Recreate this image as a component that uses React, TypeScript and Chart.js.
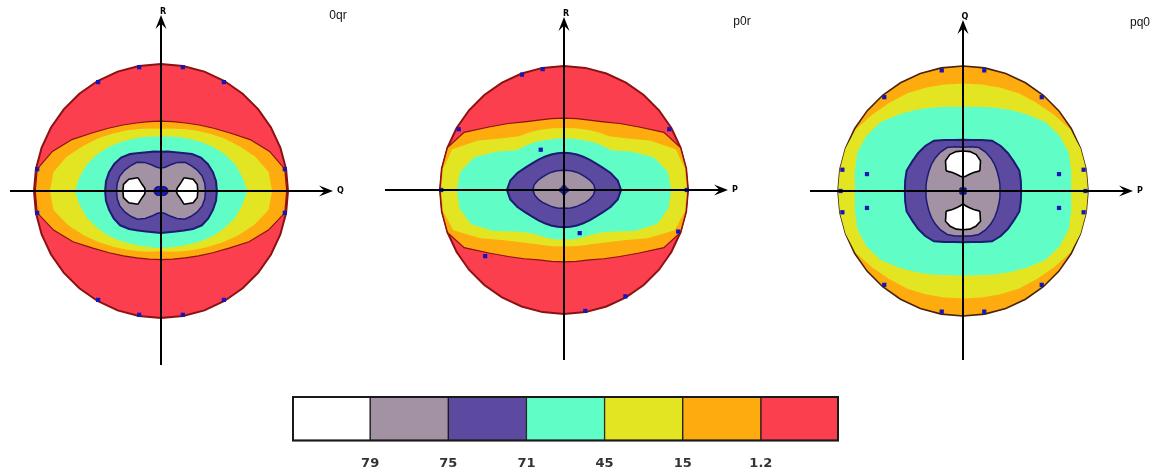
import React, { useEffect, useRef } from 'react';
import { Chart, registerables } from 'chart.js';

Chart.register(...registerables);
Chart.defaults.font.family = '"DejaVu Sans", sans-serif';

// ---------- categories: polar angle, clockwise from the upward axis ----------
const ANGLES = ['0°', '10°', '20°', '30°', '40°', '50°', '60°', '70°', '80°', '90°', '100°', '110°', '120°', '130°', '140°', '150°', '160°', '170°', '180°', '190°', '200°', '210°', '220°', '230°', '240°', '250°', '260°', '270°', '280°', '290°', '300°', '310°', '320°', '330°', '340°', '350°'];

const PANEL_TITLES = ['0qr', 'p0r', 'pq0'];
const H_LABELS = ['Q', 'P', 'P'];
const V_LABELS = ['R', 'R', 'Q'];

// ---------- colour bar ----------
const LEGEND_CLASSES = ['>79', '75-79', '71-75', '45-71', '15-45', '1.2-15', '<1.2'];
const LEGEND_WIDTHS = [1, 1, 1, 1, 1, 1, 1];
const LEGEND_TICKS = ['79', '75', '71', '45', '15', '1.2'];

// ---------- panel 1 (0qr): boundary radius of each level, per angle ----------
const P1_RED = [1, 1, 1, 1, 1, 1, 1, 1, 1, 1, 1, 1, 1, 1, 1, 1, 1, 1, 1, 1, 1, 1, 1, 1, 1, 1, 1, 1, 1, 1, 1, 1, 1, 1, 1, 1];
const P1_ORANGE = [0.55, 0.555, 0.57, 0.6, 0.645, 0.71, 0.81, 0.91, 0.99, 0.99, 0.99, 0.9, 0.8, 0.7, 0.635, 0.59, 0.56, 0.545, 0.54, 0.545, 0.56, 0.59, 0.635, 0.7, 0.8, 0.9, 0.99, 0.99, 0.99, 0.91, 0.81, 0.71, 0.645, 0.6, 0.57, 0.555];
const P1_YELLOW = [0.49, 0.5, 0.52, 0.55, 0.59, 0.645, 0.71, 0.79, 0.86, 0.875, 0.86, 0.78, 0.7, 0.63, 0.575, 0.535, 0.505, 0.485, 0.475, 0.485, 0.505, 0.535, 0.575, 0.63, 0.7, 0.78, 0.86, 0.875, 0.86, 0.79, 0.71, 0.645, 0.59, 0.55, 0.52, 0.5];
const P1_CYAN = [0.43, 0.435, 0.45, 0.47, 0.5, 0.54, 0.58, 0.62, 0.65, 0.68, 0.65, 0.62, 0.58, 0.545, 0.51, 0.48, 0.46, 0.45, 0.45, 0.45, 0.46, 0.48, 0.51, 0.545, 0.58, 0.62, 0.65, 0.68, 0.65, 0.62, 0.58, 0.54, 0.5, 0.47, 0.45, 0.435];
const P1_PURPLE = [0.31, 0.315, 0.325, 0.345, 0.38, 0.41, 0.425, 0.435, 0.44, 0.44, 0.44, 0.435, 0.43, 0.42, 0.39, 0.36, 0.34, 0.33, 0.33, 0.33, 0.34, 0.36, 0.39, 0.42, 0.43, 0.435, 0.44, 0.44, 0.44, 0.435, 0.425, 0.41, 0.38, 0.345, 0.325, 0.315];
const P1_GREY = [0.18, 0.19, 0.22, 0.26, 0.295, 0.31, 0.33, 0.345, 0.35, 0.35, 0.35, 0.345, 0.33, 0.31, 0.29, 0.25, 0.21, 0.18, 0.17, 0.18, 0.21, 0.25, 0.29, 0.31, 0.33, 0.345, 0.35, 0.35, 0.35, 0.345, 0.33, 0.31, 0.295, 0.26, 0.22, 0.19];
const P1_WHITE_OUT = [0.21, 0.21, 0.21, 0.21, 0.21, 0.21, 0.21, 0.27, 0.29, 0.29, 0.29, 0.27, 0.21, 0.21, 0.21, 0.21, 0.21, 0.21, 0.21, 0.21, 0.21, 0.21, 0.21, 0.21, 0.21, 0.27, 0.3, 0.3, 0.3, 0.27, 0.21, 0.21, 0.21, 0.21, 0.21, 0.21];
const P1_WHITE_IN = [0.21, 0.21, 0.21, 0.21, 0.21, 0.21, 0.21, 0.16, 0.13, 0.12, 0.13, 0.16, 0.21, 0.21, 0.21, 0.21, 0.21, 0.21, 0.21, 0.21, 0.21, 0.21, 0.21, 0.21, 0.21, 0.16, 0.13, 0.125, 0.13, 0.16, 0.21, 0.21, 0.21, 0.21, 0.21, 0.21];
const P1_CORE = [0.035, 0.036, 0.038, 0.041, 0.045, 0.049, 0.052, 0.054, 0.055, 0.055, 0.055, 0.054, 0.052, 0.049, 0.045, 0.041, 0.038, 0.036, 0.035, 0.036, 0.038, 0.041, 0.045, 0.049, 0.052, 0.054, 0.055, 0.055, 0.055, 0.054, 0.052, 0.049, 0.045, 0.041, 0.038, 0.036];
const P1_DOTS = [null, 0.99, null, 0.99, null, null, null, null, 0.99, null, 0.99, null, null, null, null, 0.99, null, 0.99, null, 0.99, null, 0.99, null, null, null, null, 0.99, null, 0.99, null, null, null, null, 0.99, null, 0.99];

// ---------- panel 2 (p0r) ----------
const P2_RED = [1, 1, 1, 1, 1, 1, 1, 1, 1, 1, 1, 1, 1, 1, 1, 1, 1, 1, 1, 1, 1, 1, 1, 1, 1, 1, 1, 1, 1, 1, 1, 1, 1, 1, 1, 1];
const P2_ORANGE = [0.58, 0.585, 0.6, 0.635, 0.7, 0.79, 0.93, 1, 1, 1, 1, 1, 0.93, 0.79, 0.7, 0.64, 0.6, 0.585, 0.58, 0.585, 0.6, 0.64, 0.7, 0.79, 0.93, 1, 1, 1, 1, 1, 0.93, 0.79, 0.7, 0.635, 0.6, 0.585];
const P2_YELLOW = [0.5, 0.505, 0.52, 0.54, 0.565, 0.65, 0.8, 0.96, 0.99, 0.99, 0.99, 0.95, 0.78, 0.63, 0.55, 0.5, 0.475, 0.46, 0.455, 0.46, 0.475, 0.5, 0.55, 0.63, 0.78, 0.95, 0.99, 0.99, 0.99, 0.96, 0.8, 0.65, 0.565, 0.54, 0.52, 0.505];
const P2_CYAN = [0.42, 0.42, 0.43, 0.45, 0.47, 0.5, 0.62, 0.77, 0.85, 0.865, 0.855, 0.8, 0.66, 0.52, 0.45, 0.42, 0.41, 0.405, 0.4, 0.405, 0.41, 0.42, 0.45, 0.52, 0.66, 0.8, 0.855, 0.865, 0.85, 0.77, 0.62, 0.5, 0.47, 0.45, 0.43, 0.42];
const P2_PURPLE = [0.3, 0.3, 0.305, 0.31, 0.32, 0.335, 0.36, 0.4, 0.44, 0.46, 0.44, 0.4, 0.36, 0.335, 0.32, 0.31, 0.305, 0.3, 0.3, 0.3, 0.305, 0.31, 0.32, 0.335, 0.36, 0.4, 0.44, 0.46, 0.44, 0.4, 0.36, 0.335, 0.32, 0.31, 0.305, 0.3];
const P2_GREY = [0.16, 0.16, 0.165, 0.17, 0.18, 0.19, 0.205, 0.225, 0.245, 0.25, 0.24, 0.22, 0.2, 0.18, 0.17, 0.16, 0.155, 0.15, 0.145, 0.15, 0.155, 0.16, 0.17, 0.18, 0.2, 0.22, 0.24, 0.25, 0.245, 0.225, 0.205, 0.19, 0.18, 0.17, 0.165, 0.16];
const P2_CORE = [0.045, 0.04, 0.033, 0.03, 0.03, 0.03, 0.03, 0.033, 0.04, 0.045, 0.04, 0.033, 0.03, 0.03, 0.03, 0.03, 0.033, 0.04, 0.045, 0.04, 0.033, 0.03, 0.03, 0.03, 0.03, 0.033, 0.04, 0.045, 0.04, 0.033, 0.03, 0.03, 0.03, 0.03, 0.033, 0.04];
const P2_DOTS = [null, null, null, null, null, null, 0.98, null, null, 0.99, null, 0.98, null, null, null, 0.99, 0.37, 0.99, null, null, null, null, null, 0.83, null, null, null, 0.99, null, null, 0.98, null, null, 0.375, 0.99, 0.99];

// ---------- panel 3 (pq0) ----------
const P3_ORANGE = [1, 1, 1, 1, 1, 1, 1, 1, 1, 1, 1, 1, 1, 1, 1, 1, 1, 1, 1, 1, 1, 1, 1, 1, 1, 1, 1, 1, 1, 1, 1, 1, 1, 1, 1, 1];
const P3_YELLOW = [0.86, 0.865, 0.88, 0.9, 0.92, 0.95, 0.99, 1, 1, 1, 1, 1, 0.99, 0.95, 0.92, 0.9, 0.88, 0.865, 0.86, 0.865, 0.88, 0.9, 0.92, 0.95, 0.99, 1, 1, 1, 1, 1, 0.99, 0.95, 0.92, 0.9, 0.88, 0.865];
const P3_CYAN = [0.675, 0.685, 0.71, 0.75, 0.8, 0.86, 0.89, 0.9, 0.88, 0.865, 0.88, 0.9, 0.89, 0.86, 0.8, 0.75, 0.71, 0.685, 0.675, 0.685, 0.71, 0.75, 0.8, 0.86, 0.89, 0.9, 0.88, 0.865, 0.88, 0.9, 0.89, 0.86, 0.8, 0.75, 0.71, 0.685];
const P3_PURPLE = [0.41, 0.415, 0.435, 0.465, 0.47, 0.47, 0.47, 0.48, 0.47, 0.465, 0.47, 0.48, 0.47, 0.47, 0.47, 0.465, 0.435, 0.415, 0.41, 0.415, 0.435, 0.465, 0.47, 0.47, 0.47, 0.48, 0.47, 0.465, 0.47, 0.48, 0.47, 0.47, 0.47, 0.465, 0.435, 0.415];
const P3_GREY = [0.35, 0.36, 0.37, 0.36, 0.345, 0.33, 0.315, 0.305, 0.3, 0.296, 0.3, 0.305, 0.315, 0.33, 0.345, 0.36, 0.37, 0.365, 0.36, 0.365, 0.37, 0.36, 0.345, 0.33, 0.315, 0.305, 0.3, 0.296, 0.3, 0.305, 0.315, 0.33, 0.345, 0.36, 0.37, 0.36];
const P3_WHITE_OUT = [0.32, 0.32, 0.31, 0.28, 0.21, 0.21, 0.21, 0.21, 0.21, 0.21, 0.21, 0.21, 0.21, 0.21, 0.21, 0.28, 0.3, 0.31, 0.31, 0.31, 0.3, 0.28, 0.21, 0.21, 0.21, 0.21, 0.21, 0.21, 0.21, 0.21, 0.21, 0.21, 0.21, 0.28, 0.31, 0.32];
const P3_WHITE_IN = [0.11, 0.12, 0.14, 0.17, 0.21, 0.21, 0.21, 0.21, 0.21, 0.21, 0.21, 0.21, 0.21, 0.21, 0.21, 0.17, 0.14, 0.12, 0.1, 0.12, 0.14, 0.17, 0.21, 0.21, 0.21, 0.21, 0.21, 0.21, 0.21, 0.21, 0.21, 0.21, 0.21, 0.17, 0.14, 0.12];
const P3_CORE = [0.025, 0.025, 0.027, 0.029, 0.033, 0.033, 0.029, 0.027, 0.025, 0.025, 0.025, 0.027, 0.029, 0.033, 0.033, 0.029, 0.027, 0.025, 0.025, 0.025, 0.027, 0.029, 0.033, 0.033, 0.029, 0.027, 0.025, 0.025, 0.025, 0.027, 0.029, 0.033, 0.033, 0.029, 0.027, 0.025];
const P3_DOTS = [null, 0.98, null, null, 0.98, null, null, null, 0.98, 0.98, 0.98, null, null, null, 0.98, null, null, 0.98, null, 0.98, null, null, 0.98, null, null, null, 0.98, 0.98, 0.98, null, null, null, 0.98, null, null, 0.98];
const P3_INNER_DOTS = [null, null, null, null, null, null, null, null, 0.78, null, 0.78, null, null, null, null, null, null, null, null, null, null, null, null, null, null, null, 0.78, null, 0.78, null, null, null, null, null, null, null];

// ---------- styles ----------
const C_WHITE = '#ffffff';
const C_GREY = '#a391a4';
const C_PURPLE = '#5c4aa0';
const C_CYAN = '#60fec6';
const C_YELLOW = '#e4e522';
const C_ORANGE = '#fdab0e';
const C_RED = '#fb3f4e';
const LEGEND_COLORS = [C_WHITE, C_GREY, C_PURPLE, C_CYAN, C_YELLOW, C_ORANGE, C_RED];
const NAVY_LINE = '#1b1b70';
const DOT = '#1616b8';
const DARK_RED = '#8a1212';
const CLEAR = 'rgba(0,0,0,0)';

// keep only the stretch of a blob boundary where the two edges differ
function outline(a: number[], b: number[]): (number | null)[] {
  const n = a.length;
  const differs = (k: number) => a[(k + n) % n] !== b[(k + n) % n];
  return a.map((v, i) => (differs(i) || differs(i - 1) || differs(i + 1) ? v : null));
}

function area(label: string, data: number[], color: string, border = CLEAR, width = 0) {
  return { label, data, backgroundColor: color, borderColor: border, borderWidth: width, fill: 'origin', pointRadius: 0 };
}
function dots(label: string, data: (number | null)[]) {
  return { label, data, showLine: false, fill: false, pointStyle: 'rect', pointRadius: 3, pointBackgroundColor: DOT, pointBorderWidth: 0, borderWidth: 0, backgroundColor: DOT };
}
function edge(label: string, data: (number | null)[], color: string, width: number) {
  return { label, data, fill: false, borderColor: color, borderWidth: width, backgroundColor: CLEAR, pointRadius: 0 };
}
function blob(out: number[], inner: number[]) {
  return [
    edge('>79 outer edge', outline(out, inner), '#000', 1.6),
    edge('>79 inner edge', outline(inner, out), '#000', 1.6),
    { label: '>79', data: out, fill: '+1', backgroundColor: C_WHITE, borderWidth: 0, borderColor: CLEAR, pointRadius: 0 },
    { label: '>79 base', data: inner, fill: false, borderWidth: 0, borderColor: CLEAR, backgroundColor: CLEAR, pointRadius: 0 },
  ];
}

const PANELS = [
  {
    cx: 161, cy: 191, radius: 127,
    axis: { left: 151, right: 172, up: 176, down: 174 }, titleAt: { dx: 177, dy: -175 },
    datasets: () => [
      dots('marks', P1_DOTS),
      area('core', P1_CORE, '#1a1ab0', '#0c0c60', 1),
      ...blob(P1_WHITE_OUT, P1_WHITE_IN),
      area('75-79', P1_GREY, C_GREY, NAVY_LINE, 1.5),
      area('71-75', P1_PURPLE, C_PURPLE, NAVY_LINE, 2),
      area('45-71', P1_CYAN, C_CYAN),
      area('15-45', P1_YELLOW, C_YELLOW),
      area('1.2-15', P1_ORANGE, C_ORANGE, DARK_RED, 1.2),
      area('<1.2', P1_RED, C_RED, DARK_RED, 2),
    ],
  },
  {
    cx: 564, cy: 190, radius: 124,
    axis: { left: 179, right: 164, up: 173, down: 170 }, titleAt: { dx: 178, dy: -168 },
    datasets: () => [
      dots('marks', P2_DOTS),
      area('core', P2_CORE, '#1a1ab0', '#0c0c60', 1),
      area('75-79', P2_GREY, C_GREY, NAVY_LINE, 1.5),
      area('71-75', P2_PURPLE, C_PURPLE, NAVY_LINE, 2),
      area('45-71', P2_CYAN, C_CYAN),
      area('15-45', P2_YELLOW, C_YELLOW),
      area('1.2-15', P2_ORANGE, C_ORANGE, DARK_RED, 1.2),
      area('<1.2', P2_RED, C_RED, DARK_RED, 2),
    ],
  },
  {
    cx: 963, cy: 191, radius: 125,
    axis: { left: 153, right: 170, up: 171, down: 169 }, titleAt: { dx: 177, dy: -168 },
    datasets: () => [
      dots('marks', P3_DOTS),
      dots('inner marks', P3_INNER_DOTS),
      area('core', P3_CORE, '#1a1ab0', '#0c0c60', 1),
      ...blob(P3_WHITE_OUT, P3_WHITE_IN),
      area('75-79', P3_GREY, C_GREY, NAVY_LINE, 1.5),
      area('71-75', P3_PURPLE, C_PURPLE, NAVY_LINE, 2),
      area('45-71', P3_CYAN, C_CYAN),
      area('15-45', P3_YELLOW, C_YELLOW),
      area('1.2-15', P3_ORANGE, C_ORANGE, '#4a2208', 1.6),
    ],
  },
];

const PANEL_W = 400;
const PANEL_H = 370;

function drawArrow(ctx: CanvasRenderingContext2D, x0: number, y0: number, x1: number, y1: number) {
  const a = Math.atan2(y1 - y0, x1 - x0);
  const c = Math.cos(a), s = Math.sin(a);
  const L = 14, W = 5.5;
  ctx.beginPath();
  ctx.moveTo(x0, y0);
  ctx.lineTo(x1 - c * 7, y1 - s * 7);
  ctx.stroke();
  ctx.beginPath();
  ctx.moveTo(x1, y1);
  ctx.lineTo(x1 - L * c + W * s, y1 - L * s - W * c);
  ctx.lineTo(x1 - 0.6 * L * c, y1 - 0.6 * L * s);
  ctx.lineTo(x1 - L * c - W * s, y1 - L * s + W * c);
  ctx.closePath();
  ctx.fill();
}

function RadarPanel({ index }: { index: number }) {
  const ref = useRef<HTMLCanvasElement>(null);
  const p = PANELS[index];
  useEffect(() => {
    const decor = {
      id: 'panelDecor',
      afterDatasetsDraw(chart: any) {
        const r = chart.scales.r;
        const cx = r.xCenter, cy = r.yCenter;
        const ctx = chart.ctx as CanvasRenderingContext2D;
        ctx.save();
        ctx.strokeStyle = '#000';
        ctx.fillStyle = '#000';
        ctx.lineWidth = 2;
        drawArrow(ctx, cx - p.axis.left, cy, cx + p.axis.right, cy);
        drawArrow(ctx, cx, cy + p.axis.down, cx, cy - p.axis.up);
        ctx.font = 'bold 8px "DejaVu Sans"';
        ctx.textAlign = 'left';
        ctx.textBaseline = 'middle';
        ctx.fillText(H_LABELS[index], cx + p.axis.right + 4, cy);
        ctx.textAlign = 'center';
        ctx.textBaseline = 'bottom';
        ctx.fillText(V_LABELS[index], cx + 2, cy - p.axis.up + 1);
        ctx.font = '12px "Liberation Sans"';
        ctx.fillStyle = '#111';
        ctx.textBaseline = 'middle';
        ctx.fillText(PANEL_TITLES[index], cx + p.titleAt.dx, cy + p.titleAt.dy);
        ctx.restore();
      },
    };
    const drawRadius = Math.floor(Math.min(PANEL_W, PANEL_H) / 2);
    const chart = new Chart(ref.current as HTMLCanvasElement, {
      type: 'radar',
      data: { labels: ANGLES, datasets: p.datasets() as any },
      options: {
        responsive: false,
        animation: false,
        events: [],
        layout: { padding: 0 },
        elements: { line: { tension: 0 } },
        plugins: { legend: { display: false }, tooltip: { enabled: false }, title: { display: false } },
        scales: {
          r: {
            min: 0,
            max: drawRadius / p.radius,
            ticks: { display: false },
            grid: { display: false },
            angleLines: { display: false },
            pointLabels: { display: false },
          },
        },
      } as any,
      plugins: [decor],
    });
    return () => chart.destroy();
  }, []);
  return (
    <canvas
      ref={ref}
      width={PANEL_W}
      height={PANEL_H}
      style={{ position: 'absolute', left: p.cx - PANEL_W / 2, top: p.cy - PANEL_H / 2, width: PANEL_W, height: PANEL_H }}
    />
  );
}

const BAR_CANVAS = { left: 278, top: 390, width: 575, height: 95 };

function ColorBar() {
  const ref = useRef<HTMLCanvasElement>(null);
  useEffect(() => {
    const frame = {
      id: 'barFrame',
      afterDatasetsDraw(chart: any) {
        const x = chart.scales.x;
        const { top, bottom } = chart.chartArea;
        const ctx = chart.ctx as CanvasRenderingContext2D;
        const l = x.getPixelForValue(0), rr = x.getPixelForValue(LEGEND_WIDTHS.length);
        ctx.save();
        ctx.strokeStyle = '#1a1a1a';
        ctx.lineWidth = 2;
        ctx.strokeRect(l + 1, top + 1, rr - l - 2, bottom - top - 2);
        ctx.restore();
      },
    };
    const chart = new Chart(ref.current as HTMLCanvasElement, {
      type: 'bar',
      data: {
        labels: [''],
        datasets: LEGEND_CLASSES.map((c, i) => ({
          label: c,
          data: [LEGEND_WIDTHS[i]],
          backgroundColor: LEGEND_COLORS[i],
          borderColor: '#1a1a1a',
          borderWidth: 1,
          borderSkipped: false,
          barPercentage: 1,
          categoryPercentage: 1,
          stack: 'bar',
        })),
      },
      options: {
        indexAxis: 'y',
        responsive: false,
        animation: false,
        events: [],
        layout: { autoPadding: false, padding: { left: 0, right: 0, top: 6, bottom: 0 } },
        plugins: { legend: { display: false }, tooltip: { enabled: false } },
        scales: {
          x: {
            stacked: true,
            min: 0,
            max: LEGEND_WIDTHS.length,
            grid: { display: false, drawTicks: false },
            border: { display: false },
            ticks: {
              stepSize: 1,
              padding: 14,
              autoSkip: false,
              maxRotation: 0,
              color: '#333',
              font: { size: 13, weight: 'bold', family: '"DejaVu Sans"' },
              callback: (v: any) => LEGEND_TICKS[Number(v) - 1] ?? '',
            },
          },
          y: { stacked: true, display: false },
        },
      } as any,
      plugins: [frame],
    });
    return () => chart.destroy();
  }, []);
  return (
    <canvas
      ref={ref}
      width={BAR_CANVAS.width}
      height={BAR_CANVAS.height}
      style={{ position: 'absolute', left: BAR_CANVAS.left, top: BAR_CANVAS.top, width: BAR_CANVAS.width, height: BAR_CANVAS.height }}
    />
  );
}

export default function App() {
  return (
    <div style={{ position: 'fixed', left: 0, top: 0, width: 1158, height: 473, overflow: 'hidden', background: '#fff' }}>
      <RadarPanel index={0} />
      <RadarPanel index={1} />
      <RadarPanel index={2} />
      <ColorBar />
    </div>
  );
}
